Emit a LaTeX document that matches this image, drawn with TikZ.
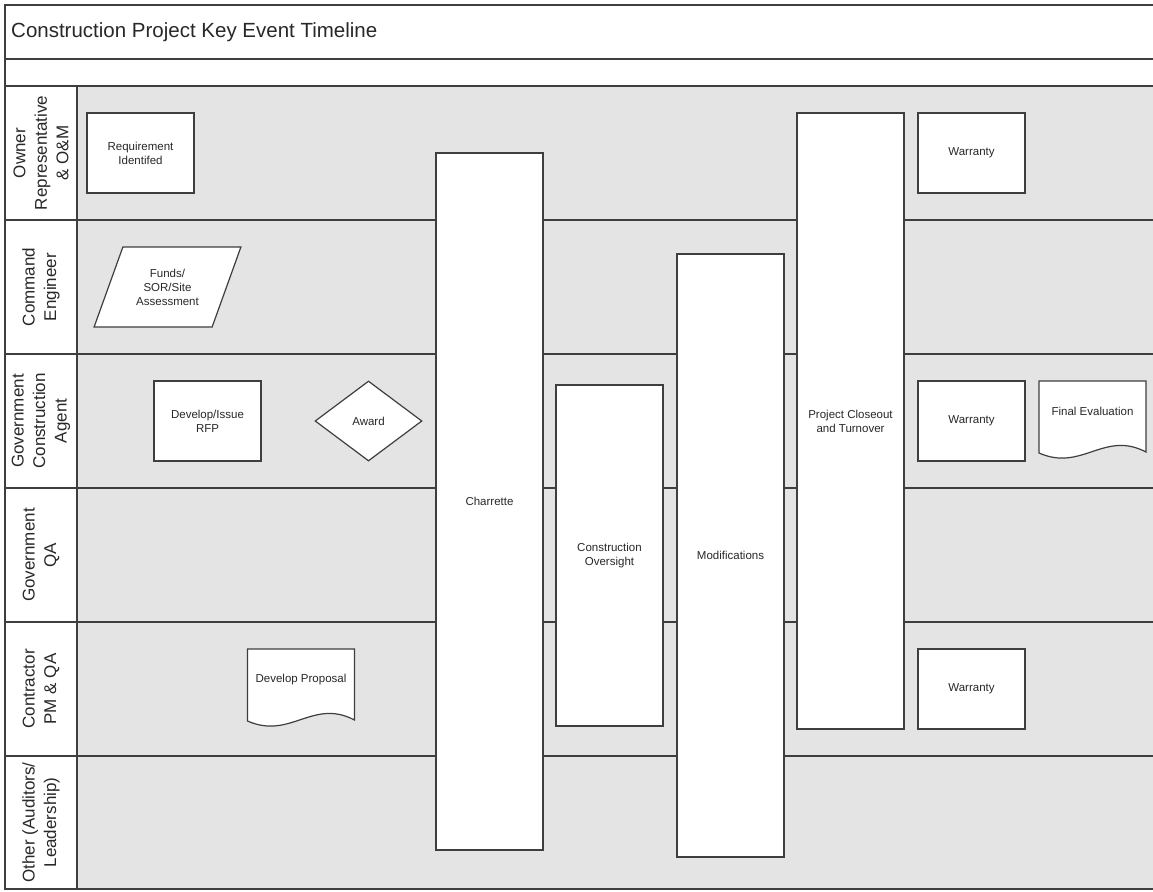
\documentclass[tikz,border=0pt]{standalone}
\usepackage{fontspec}
\setmainfont{Liberation Sans}
\usetikzlibrary{shapes.geometric}

\definecolor{lanegray}{RGB}{228,228,228}
\definecolor{edgegray}{RGB}{62,62,62}
\definecolor{inkgray}{RGB}{40,40,40}

\tikzset{
	frameline/.style={draw=edgegray, line width=1.6pt},
	edgeline/.style={draw=edgegray, line width=1.2pt},
	lanelabel/.style={rotate=90, align=center, text=inkgray,
			font=\fontsize{17}{21.5}\selectfont},
	titletext/.style={anchor=west, inner sep=0pt, text=inkgray,
			font=\fontsize{20.5}{24}\selectfont},
	stepbox/.style={edgeline, fill=white, align=center, inner sep=2pt,
			text=inkgray, font=\fontsize{11.5}{14}\selectfont,
			minimum width=107pt, minimum height=80pt},
	barbox/.style={stepbox, minimum height=#1},
	awardbox/.style={stepbox, diamond, minimum width=107pt, minimum height=80pt},
	fundsbox/.style={stepbox, trapezium, trapezium left angle=62,
			trapezium right angle=118, trapezium stretches=true,
			minimum width=147pt, minimum height=80pt},
	doctext/.style={align=center, inner sep=0pt, text=inkgray,
			font=\fontsize{11.5}{14}\selectfont}
}

\begin{document}
\begin{tikzpicture}[x=1pt, y=-1pt]
    \def\lanetop{86} % top of the first swimlane
    \useasboundingbox (0,0) rectangle (1153,891);
    \fill[white] (0,0) rectangle (1153,891);

    % Frame and title bands
    \fill[lanegray] (77,\lanetop) rectangle (1153,889);
    \draw[frameline] (1153,5) -- (5,5) -- (5,889) -- (1153,889);
    \draw[frameline] (5,59) -- (1153,59);
    \draw[frameline] (5,\lanetop) -- (1153,\lanetop);
    \draw[frameline] (77,\lanetop) -- (77,889);
    \node[titletext] (title) at (11,32) {Construction Project Key Event Timeline};

    % Swimlanes with their labels (top, bottom, label)
    \foreach \ya/\yb/\lbl [count=\i] in {86/220/{Owner\\Representative\\\& O\&M},
        220/354/{Command\\Engineer}, 354/488/{Government\\Construction\\Agent},
        488/622/{Government\\QA}, 622/756/{Contractor\\PM \& QA},
        756/889/{Other (Auditors/\\Leadership)}} {
      \draw[frameline] (5,\yb) -- (1153,\yb);
      \node[lanelabel] (lane\i) at (41,{(\ya+\yb)/2}) {\lbl};
    }

    % Early steps
    \node[stepbox] (req) at (140.5,153) {Requirement\\Identifed};
    \node[fundsbox] (funds) at (167.5,287) {Funds/\\SOR/Site\\Assessment};
    \node[stepbox] (rfp) at (207.5,421) {Develop/Issue\\RFP};
    \node[awardbox] (award) at (368.5,421) {Award};

    % Long events across the lanes
    \node[barbox=697pt] (charrette) at (489.5,501.5) {Charrette};
    \node[barbox=341pt] (oversight) at (609.5,555.5) {Construction\\Oversight};
    \node[barbox=603pt] (mods) at (730.5,555.5) {Modifications};
    \node[barbox=616pt] (closeout) at (850.5,421) {Project Closeout\\and Turnover};

    % Warranty steps
    \foreach \nm/\cy in {warrOwner/153, warrAgent/421, warrContr/689} {
      \node[stepbox] (\nm) at (971.5,\cy) {Warranty};
    }

    % Document shapes
    \foreach \nm/\cx/\cy/\txt in {prop/301/689/Develop Proposal, evaluation/1092.5/421/Final Evaluation} {
      \draw[edgeline, fill=white] (\cx-53.5,\cy+32) -- (\cx-53.5,\cy-40)
        -- (\cx+53.5,\cy-40) -- (\cx+53.5,\cy+31)
        .. controls (\cx+11.5,\cy+9) and (\cx-10.5,\cy+51) .. cycle;
      \node[doctext] (\nm) at (\cx,\cy-9.5) {\txt};
    }
\end{tikzpicture}
\end{document}
